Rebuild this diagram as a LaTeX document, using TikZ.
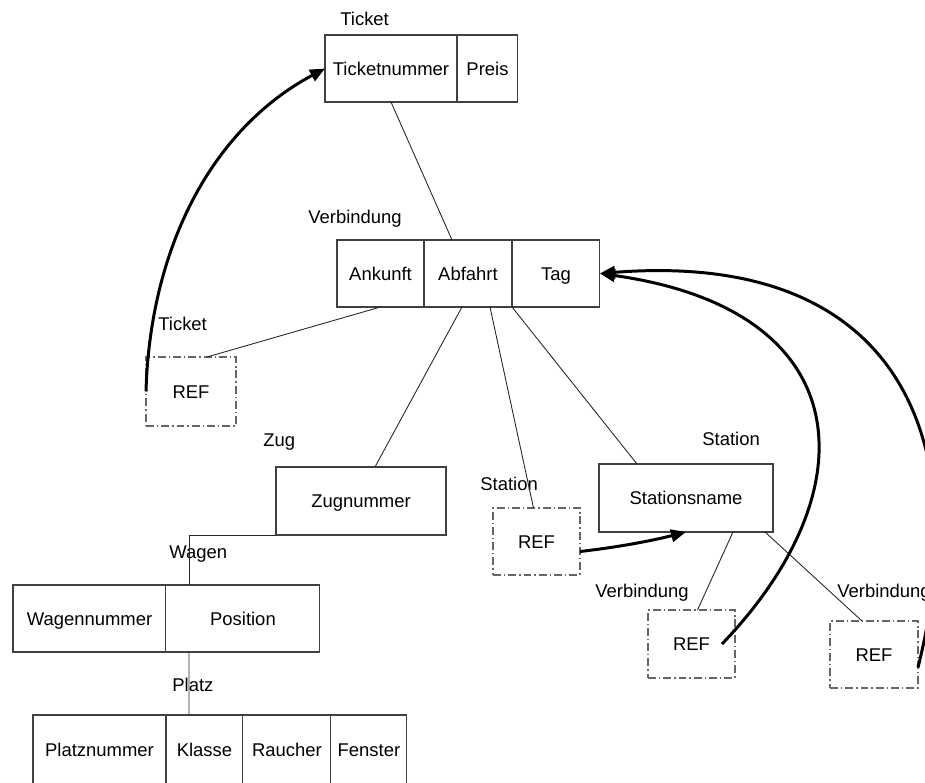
\documentclass[tikz,border=0pt]{standalone}
\usepackage{fontspec}
\setmainfont{Liberation Sans}
\usetikzlibrary{arrows.meta, positioning}

\begin{document}
\begin{tikzpicture}[
    x=0.02cm, y=-0.02cm,
    font=\fontsize{10.5}{12}\selectfont,
    cell/.style={draw=black!75, line width=0.6pt, minimum height=1.34cm,
                 text height=7.5pt, text depth=0pt,
                 inner sep=0pt, outer sep=0pt, align=center},
    refbox/.style={cell, draw=black!60, dash pattern=on 4.5pt off 1.7pt on 0.8pt off 1.7pt},
    lbl/.style={anchor=base west, inner sep=0pt},
    link/.style={black!85, line width=0.5pt},
    refarr/.style={-{Triangle[length=0.3cm, width=0.25cm]}, line width=1.7pt},
]
\clip (0,0) rectangle (925,783);

% === Ticket ===
\node[cell, minimum width=2.64cm, anchor=north west] (tnr) at (325,35) {Ticketnummer};
\node[cell, minimum width=1.22cm, right=0pt of tnr] (preis) {Preis};
\node[lbl] (lticket) at (340,25.5) {Ticket};

% === Verbindung ===
\node[cell, minimum width=1.74cm, anchor=north west] (ank) at (337,240) {Ankunft};
\node[cell, minimum width=1.76cm, right=0pt of ank] (abf) {Abfahrt};
\node[cell, minimum width=1.76cm, right=0pt of abf] (tag) {Tag};
\node[lbl] (lverb) at (308,223.5) {Verbindung};

% === Zug ===
\node[cell, minimum width=3.40cm, minimum height=1.36cm, anchor=north west] (zug) at (276,467) {Zugnummer};
\node[lbl] (lzug) at (263,446.5) {Zug};

% === Station ===
\node[cell, minimum width=3.48cm, minimum height=1.36cm, anchor=north west] (stn) at (599,464) {Stationsname};
\node[lbl] (lstn) at (702,445) {Station};

% === Wagen ===
\node[cell, minimum width=3.06cm, anchor=north west] (wnr) at (13,585) {Wagennummer};
\node[cell, minimum width=3.08cm, right=0pt of wnr] (pos) {Position};
\node[lbl] (lwagen) at (169,558.5) {Wagen};

% === Platz ===
\node[cell, minimum width=2.66cm, minimum height=1.40cm, anchor=north west] (pnr) at (33,715) {Platznummer};
\node[cell, minimum width=1.54cm, minimum height=1.40cm, right=0pt of pnr] (kl) {Klasse};
\node[cell, minimum width=1.76cm, minimum height=1.40cm, right=0pt of kl] (rau) {Raucher};
\node[cell, minimum width=1.52cm, minimum height=1.40cm, right=0pt of rau] (fen) {Fenster};
\node[lbl] (lplatz) at (172,691.5) {Platz};

% === REF boxes ===
\node[refbox, minimum width=1.80cm, minimum height=1.38cm, anchor=north west] (reft) at (146,357) {REF};
\node[lbl] (lreft) at (158,330.5) {Ticket};
\node[refbox, minimum width=1.74cm, anchor=north west] (refs) at (493,508) {REF};
\node[lbl] (lrefs) at (480,490.5) {Station};
\node[refbox, minimum width=1.74cm, minimum height=1.36cm, anchor=north west] (refv1) at (648,610) {REF};
\node[lbl] (lrefv1) at (595,597.5) {Verbindung};
\node[refbox, minimum width=1.76cm, anchor=north west] (refv2) at (830,621) {REF};
\node[lbl] (lrefv2) at (837,597.5) {Verbindung};

% === links ===
\draw[link] (tnr.south) -- ([xshift=-0.32cm]abf.north);
\draw[link] (ank.south) -- ([xshift=0.32cm]reft.north);
\draw[link] ([xshift=-0.12cm]abf.south) -- ([xshift=0.28cm]zug.north);
\draw[link] ([xshift=0.44cm]abf.south) -- ([xshift=-0.06cm]refs.north);
\draw[link] (abf.south east) -- ([xshift=-0.98cm]stn.north);
\draw[link] ([xshift=0.94cm]stn.south) -- ([xshift=0.12cm]refv1.north);
\draw[link] ([xshift=1.58cm]stn.south) -- ([xshift=-0.24cm]refv2.north);
\draw[link] (zug.south west) -| ([xshift=0.46cm]pos.north west);
\draw[link] ([xshift=0.46cm]pos.south west) -- ([xshift=0.46cm]kl.north west);

% === references ===
\draw[refarr] (reft.west) .. controls (150,250) and (210,130) .. (tnr.west);
\draw[refarr] ([yshift=-0.2cm]refs.east) .. controls (620,547) and (655,540) .. (stn.south);
\draw[refarr] ([xshift=-0.26cm]refv1.east) .. controls (870,490) and (860,310) .. (tag.east);
\draw[refarr] ([yshift=-0.26cm]refv2.east) .. controls (975,440) and (900,250) .. (tag.east);

\end{tikzpicture}
\end{document}
